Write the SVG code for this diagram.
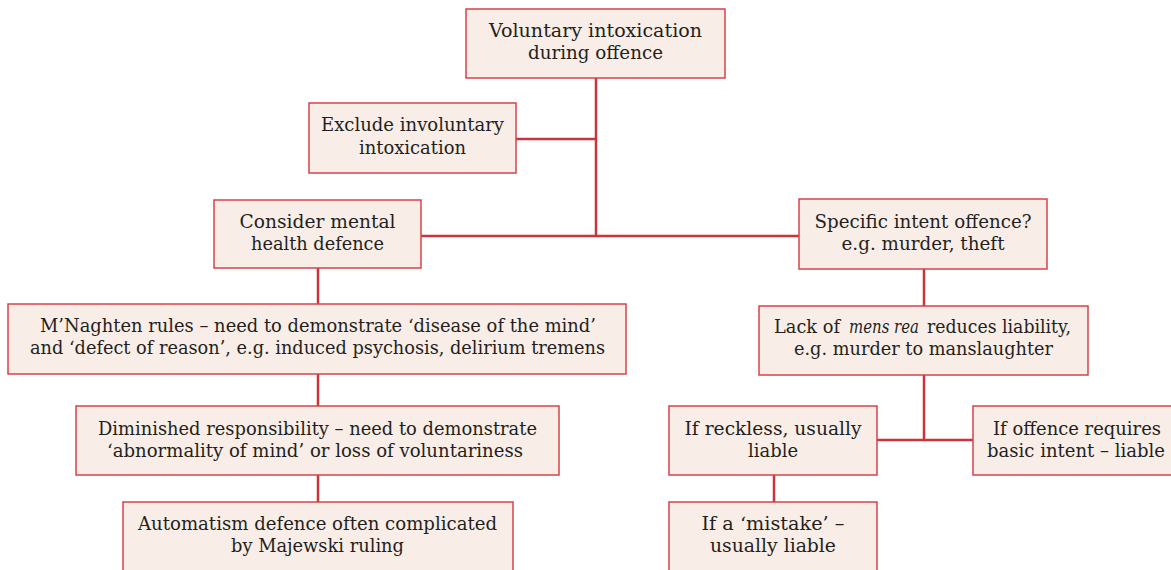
<svg xmlns="http://www.w3.org/2000/svg" width="1171" height="570" viewBox="0 0 1171 570">
<style>
.box{fill:#F9EDE7;stroke:#D6434A;stroke-width:1.5}
.lbl{font-family:"DejaVu Serif","Liberation Serif",serif;font-size:19px;fill:#231F20;text-anchor:middle}
.st{text-anchor:start}
.it{font-style:italic}
.con{stroke:#C9333B;stroke-width:2.5;fill:none}
</style>
<rect width="1171" height="570" fill="#FFFFFF"/>
<g id="connectors">
<path class="con" d="M596 78V236M516 139H596M421 236H799"/>
<path class="con" d="M318 268V304M318 374V406M318 475V502"/>
<path class="con" d="M924 269V306M924 375V440M877 440H973M774 475V502"/>
</g>
<g id="n-voluntary">
<rect class="box" x="466" y="9" width="259" height="69"/>
<text class="lbl" x="595.5" y="37" textLength="213" lengthAdjust="spacingAndGlyphs">Voluntary intoxication</text>
<text class="lbl" x="595.5" y="59" textLength="135" lengthAdjust="spacingAndGlyphs">during offence</text>
</g>
<g id="n-exclude">
<rect class="box" x="309" y="103" width="207" height="70"/>
<text class="lbl" x="412.5" y="131" textLength="183" lengthAdjust="spacingAndGlyphs">Exclude involuntary</text>
<text class="lbl" x="412.5" y="154" textLength="107" lengthAdjust="spacingAndGlyphs">intoxication</text>
</g>
<g id="n-consider">
<rect class="box" x="214" y="200" width="207" height="68"/>
<text class="lbl" x="317.5" y="228" textLength="156" lengthAdjust="spacingAndGlyphs">Consider mental</text>
<text class="lbl" x="317.5" y="250" textLength="133" lengthAdjust="spacingAndGlyphs">health defence</text>
</g>
<g id="n-specific">
<rect class="box" x="799" y="199" width="248" height="70"/>
<text class="lbl" x="923" y="228" textLength="217" lengthAdjust="spacingAndGlyphs">Specific intent offence?</text>
<text class="lbl" x="923" y="250" textLength="163" lengthAdjust="spacingAndGlyphs">e.g. murder, theft</text>
</g>
<g id="n-lack">
<rect class="box" x="759" y="306" width="329" height="69"/>
<text class="lbl st" x="774" y="333" textLength="66" lengthAdjust="spacingAndGlyphs">Lack of</text>
<text class="lbl st it" x="849" y="333" textLength="70" lengthAdjust="spacingAndGlyphs">mens rea</text>
<text class="lbl st" x="927" y="333" textLength="144" lengthAdjust="spacingAndGlyphs">reduces liability,</text>
<text class="lbl" x="923.5" y="355" textLength="259" lengthAdjust="spacingAndGlyphs">e.g. murder to manslaughter</text>
</g>
<g id="n-reckless">
<rect class="box" x="669" y="406" width="208" height="69"/>
<text class="lbl" x="773" y="435" textLength="177" lengthAdjust="spacingAndGlyphs">If reckless, usually</text>
<text class="lbl" x="773" y="457" textLength="50" lengthAdjust="spacingAndGlyphs">liable</text>
</g>
<g id="n-basic">
<rect class="box" x="973" y="406" width="208" height="69"/>
<text class="lbl" x="1077" y="435" textLength="168" lengthAdjust="spacingAndGlyphs">If offence requires</text>
<text class="lbl" x="1076" y="457" textLength="178" lengthAdjust="spacingAndGlyphs">basic intent – liable</text>
</g>
<g id="n-mistake">
<rect class="box" x="669" y="502" width="208" height="80"/>
<text class="lbl" x="773" y="530" textLength="143" lengthAdjust="spacingAndGlyphs">If a ‘mistake’ –</text>
<text class="lbl" x="773" y="552" textLength="126" lengthAdjust="spacingAndGlyphs">usually liable</text>
</g>
<g id="n-mnaghten">
<rect class="box" x="8" y="304" width="618" height="70"/>
<text class="lbl" x="318" y="332" textLength="556" lengthAdjust="spacingAndGlyphs">M’Naghten rules – need to demonstrate ‘disease of the mind’</text>
<text class="lbl" x="317.5" y="354" textLength="575" lengthAdjust="spacingAndGlyphs">and ‘defect of reason’, e.g. induced psychosis, delirium tremens</text>
</g>
<g id="n-diminished">
<rect class="box" x="76" y="406" width="483" height="69"/>
<text class="lbl" x="317.5" y="435" textLength="439" lengthAdjust="spacingAndGlyphs">Diminished responsibility – need to demonstrate</text>
<text class="lbl" x="315" y="457" textLength="416" lengthAdjust="spacingAndGlyphs">‘abnormality of mind’ or loss of voluntariness</text>
</g>
<g id="n-automatism">
<rect class="box" x="123" y="502" width="390" height="80"/>
<text class="lbl" x="317.5" y="530" textLength="359" lengthAdjust="spacingAndGlyphs">Automatism defence often complicated</text>
<text class="lbl" x="317.5" y="552" textLength="173" lengthAdjust="spacingAndGlyphs">by Majewski ruling</text>
</g>
</svg>
